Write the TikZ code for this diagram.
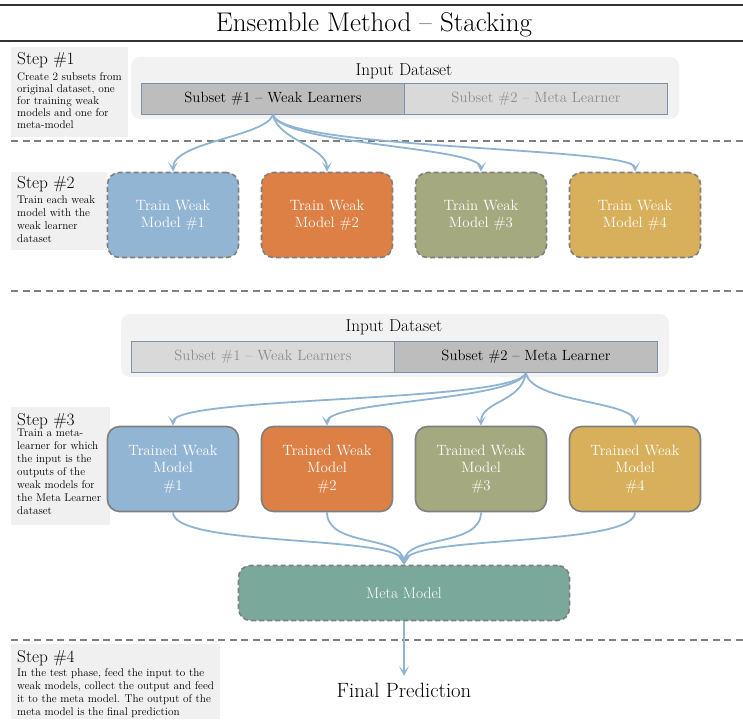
\documentclass[tikz,border=0pt]{standalone}
\usetikzlibrary{arrows.meta}
\definecolor{stepbg}{HTML}{F0F0F0}
\definecolor{inbg}{HTML}{F2F2F2}
\definecolor{subdark}{HTML}{BDBDBD}
\definecolor{sublight}{HTML}{D9D9D9}
\definecolor{subborder}{HTML}{7C92A8}
\definecolor{subgraytext}{HTML}{8C8C8C}
\definecolor{arrowblue}{HTML}{8FB3D3}
\definecolor{mblue}{HTML}{93B5D4}
\definecolor{morange}{HTML}{DD8045}
\definecolor{molive}{HTML}{A5A97F}
\definecolor{mgold}{HTML}{D8B05B}
\definecolor{mteal}{HTML}{7AA89B}
\definecolor{bordergray}{HTML}{7F7F7F}
\definecolor{sepgray}{HTML}{808080}
\tikzset{
  stepbox/.style={fill=stepbg, inner sep=0pt, outer sep=0pt},
  steptitle/.style={font=\fontsize{17.3}{19}\selectfont, anchor=base west, inner sep=0pt},
  stepbody/.style={font=\fontsize{11.2}{13}\selectfont, anchor=north west, inner sep=0pt, align=left},
  inputbox/.style={fill=inbg, rounded corners=9pt, inner sep=0pt},
  subsetbox/.style={draw=subborder, line width=0.9pt, minimum width=263pt, minimum height=31pt, inner sep=0pt, font=\fontsize{14.8}{17}\selectfont},
  model/.style={rounded corners=12pt, minimum width=131pt, minimum height=85pt, inner sep=0pt, align=center, text=white, font=\fontsize{14.9}{17.4}\selectfont, line width=1.6pt, draw=bordergray},
  dashedborder/.style={dash pattern=on 5pt off 3pt},
  sep/.style={draw=sepgray, line width=1.4pt, dash pattern=on 7pt off 4.5pt},
  flow/.style={draw=arrowblue, line width=1.8pt, -{Stealth[length=10pt,width=10pt,inset=5.5pt]}}
}
\begin{document}
\begin{tikzpicture}[x=1pt,y=-1pt]
\useasboundingbox (0,0) rectangle (743,719);
% title
\draw[line width=1.1pt, draw=black!80] (0,5) -- (743,5);
\node[font=\fontsize{27}{30}\selectfont, anchor=base] (title) at (374,32) {Ensemble Method -- Stacking};
\draw[line width=1.1pt, draw=black!80] (0,41) -- (743,41);

% separators
\coordinate (sepA1) at (11,141); \coordinate (sepA2) at (743,141);
\coordinate (sepB1) at (11,291); \coordinate (sepB2) at (743,291);
\coordinate (sepC1) at (11,640); \coordinate (sepC2) at (743,640);
\draw[sep] (sepA1) -- (sepA2);
\draw[sep] (sepB1) -- (sepB2);
\draw[sep] (sepC1) -- (sepC2);

% Step boxes
\fill[stepbox] (11,47) rectangle (128,137);
\node[steptitle] (s1t) at (17,65) {Step \#1};
\node[stepbody, font=\fontsize{11.2}{12}\selectfont] (s1b) at (17,72) {Create 2 subsets from\\original dataset, one\\for training weak\\models and one for\\meta-model};

\fill[stepbox] (11,172) rectangle (107,250);
\node[steptitle] (s2t) at (17,189) {Step \#2};
\node[stepbody] (s2b) at (17,196) {Train each weak\\model with the\\weak learner\\dataset};

\fill[stepbox] (11,407) rectangle (110,525);
\node[steptitle] (s3t) at (17,425) {Step \#3};
\node[stepbody] (s3b) at (17,429) {Train a meta-\\learner for which\\the input is the\\outputs of the\\weak models for\\the Meta Learner\\dataset};

\fill[stepbox] (11,644) rectangle (220,719);
\node[steptitle] (s4t) at (17,662) {Step \#4};
\node[stepbody] (s4b) at (17,668) {In the test phase, feed the input to the\\weak models, collect the output and feed\\it to the meta model. The output of the\\meta model is the final prediction};

% Input dataset 1
\fill[inputbox] (131,57) rectangle (679,119);
\node[font=\fontsize{17.2}{19}\selectfont] (in1) at (404,71) {Input Dataset};
\node[subsetbox, fill=subdark, anchor=north west] (sub1a) at (141,83) {Subset \#1 -- Weak Learners};
\node[subsetbox, fill=sublight, text=subgraytext, anchor=north west] (sub1b) at (404,83) {Subset \#2 -- Meta Learner};

% Train models
\node[model, dashedborder, fill=mblue] (t1) at (173,215) {Train Weak\\Model \#1};
\node[model, dashedborder, fill=morange] (t2) at (327,215) {Train Weak\\Model \#2};
\node[model, dashedborder, fill=molive] (t3) at (481,215) {Train Weak\\Model \#3};
\node[model, dashedborder, fill=mgold] (t4) at (635,215) {Train Weak\\Model \#4};

\draw[flow] (sub1a.south) .. controls +(-8,22) and +(0,-30) .. (t1.north);
\draw[flow] (sub1a.south) .. controls +(5,25) and +(0,-25) .. (t2.north);
\draw[flow] (sub1a.south) .. controls +(10,30) and +(0,-25) .. (t3.north);
\draw[flow] (sub1a.south) .. controls +(10,35) and +(0,-25) .. (t4.north);

% Input dataset 2
\fill[inputbox] (121,314) rectangle (669,377);
\node[font=\fontsize{17.2}{19}\selectfont] (in2) at (394,327) {Input Dataset};
\node[subsetbox, fill=sublight, text=subgraytext, anchor=north west] (sub2a) at (131,341) {Subset \#1 -- Weak Learners};
\node[subsetbox, fill=subdark, anchor=north west] (sub2b) at (394,341) {Subset \#2 -- Meta Learner};

% Trained models
\node[model, fill=mblue] (m1) at (173,469) {Trained Weak\\Model\\\#1};
\node[model, fill=morange] (m2) at (327,469) {Trained Weak\\Model\\\#2};
\node[model, fill=molive] (m3) at (481,469) {Trained Weak\\Model\\\#3};
\node[model, fill=mgold] (m4) at (635,469) {Trained Weak\\Model\\\#4};

\draw[flow] (sub2b.south) .. controls +(-10,30) and +(0,-30) .. (m1.north);
\draw[flow] (sub2b.south) .. controls +(-10,28) and +(0,-25) .. (m2.north);
\draw[flow] (sub2b.south) .. controls +(-5,30) and +(0,-25) .. (m3.north);
\draw[flow] (sub2b.south) .. controls +(5,30) and +(0,-25) .. (m4.north);

% Meta model
\node[model, dashedborder, fill=mteal, minimum width=331pt, minimum height=55pt, font=\fontsize{15.5}{18}\selectfont] (meta) at (404,593) {Meta Model};

\draw[flow] (m1.south) .. controls +(0,35) and +(-5,-30) .. (meta.north);
\draw[flow] (m2.south) .. controls +(0,35) and +(-2,-30) .. (meta.north);
\draw[flow] (m3.south) .. controls +(0,35) and +(2,-30) .. (meta.north);
\draw[flow] (m4.south) .. controls +(0,35) and +(5,-30) .. (meta.north);

% Final prediction
\node[font=\fontsize{20.7}{23}\selectfont] (final) at (404,690) {Final Prediction};
\coordinate (finaltip) at (404,676);
\draw[flow] (meta.south) -- (finaltip);
\end{tikzpicture}
\end{document}
